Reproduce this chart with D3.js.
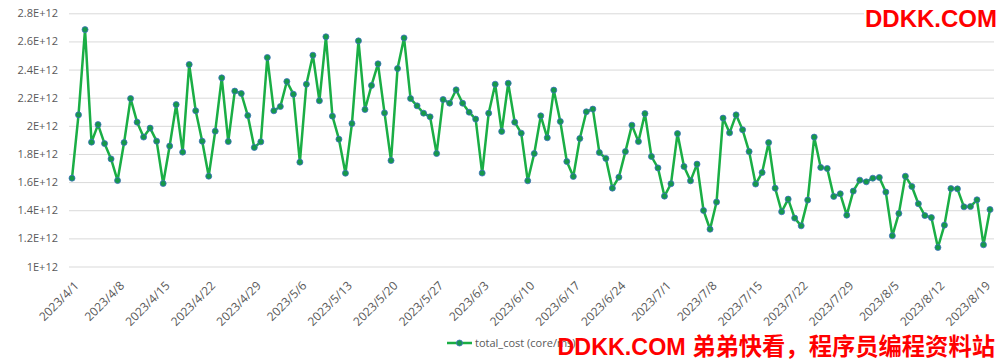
<!DOCTYPE html>
<html>
<head>
<meta charset="utf-8">
<script src="https://cdn.jsdelivr.net/npm/d3@7/dist/d3.min.js"></script>
<style>
  html, body { margin: 0; padding: 0; background: #fff; }
  svg { display: block; }
</style>
</head>
<body>
<svg id="chart" width="1001" height="360"></svg>
<script>
// ---- data ----
const startDate = "2023-04-01";
const seriesName = "total_cost (core/ms)";
// values in units of 1E+12
const totalCost = [
  1.628, 2.078, 2.684, 1.884, 2.009, 1.874, 1.765, 1.611, 1.881, 2.194,
  2.026, 1.920, 1.984, 1.891, 1.590, 1.856, 2.151, 1.813, 2.436, 2.107,
  1.891, 1.642, 1.962, 2.341, 1.888, 2.247, 2.230, 2.073, 1.846, 1.886,
  2.486, 2.107, 2.137, 2.315, 2.225, 1.742, 2.296, 2.502, 2.178, 2.633,
  2.069, 1.905, 1.663, 2.016, 2.604, 2.116, 2.287, 2.441, 2.092, 1.753,
  2.407, 2.625, 2.194, 2.142, 2.090, 2.064, 1.803, 2.187, 2.161, 2.256,
  2.161, 2.097, 2.048, 1.664, 2.090, 2.296, 1.960, 2.303, 2.026, 1.948,
  1.609, 1.803, 2.071, 1.915, 2.254, 2.031, 1.746, 1.640, 1.910, 2.100,
  2.119, 1.810, 1.768, 1.557, 1.635, 1.817, 2.005, 1.888, 2.087, 1.782,
  1.701, 1.500, 1.588, 1.945, 1.711, 1.609, 1.728, 1.398, 1.265, 1.458,
  2.055, 1.950, 2.078, 1.972, 1.817, 1.586, 1.668, 1.881, 1.557, 1.389,
  1.479, 1.344, 1.289, 1.472, 1.920, 1.704, 1.697, 1.498, 1.517, 1.365,
  1.536, 1.614, 1.602, 1.628, 1.633, 1.529, 1.218, 1.377, 1.642, 1.569,
  1.446, 1.362, 1.348, 1.135, 1.294, 1.554, 1.552, 1.424, 1.426, 1.474,
  1.154, 1.405
];
const yTicks = [1.0, 1.2, 1.4, 1.6, 1.8, 2.0, 2.2, 2.4, 2.6, 2.8];
const xTickLabels = ["2023/4/1","2023/4/8","2023/4/15","2023/4/22","2023/4/29","2023/5/6",
  "2023/5/13","2023/5/20","2023/5/27","2023/6/3","2023/6/10","2023/6/17","2023/6/24",
  "2023/7/1","2023/7/8","2023/7/15","2023/7/22","2023/7/29","2023/8/5","2023/8/12","2023/8/19"];
const watermarkTop = "DDKK.COM";
const watermarkBottom = "DDKK.COM 弟弟快看，程序员编程资料站";

// ---- build ----
const parse = d3.timeParse("%Y-%m-%d");
const t0 = parse(startDate);
const dates = totalCost.map((_, i) => d3.timeDay.offset(t0, i));
const data = dates.map((d, i) => ({ date: d, value: totalCost[i] * 1e12 }));
const parseTick = d3.timeParse("%Y/%m/%d");
const tickDates = xTickLabels.map(s => parseTick(s));

const svg = d3.select("#chart");
const font = "'Open Sans', 'Liberation Sans', sans-serif";
const textColor = "#595959";

const x = d3.scaleTime().domain([dates[0], dates[dates.length - 1]]).range([72, 990]);
const y = d3.scaleLinear().domain([1e12, 2.8e12]).range([266.5, 13.3]);

const fmtY = v => {
  const m = +(v / 1e12).toFixed(1);
  return m + "E+12";
};

// gridlines
const grid = svg.append("g")
  .call(d3.axisLeft(y).tickValues(yTicks.map(v => v * 1e12)).tickSize(-(994 - 69)).tickFormat(""))
  .attr("transform", "translate(69,0)");
grid.select(".domain").remove();
grid.selectAll("line").attr("stroke", "#d9d9d9").attr("stroke-width", 1);

// y labels
const yAxis = svg.append("g").attr("transform", "translate(58,0)")
  .call(d3.axisLeft(y).tickValues(yTicks.map(v => v * 1e12)).tickSize(0).tickPadding(0).tickFormat(fmtY));
yAxis.select(".domain").remove();
yAxis.selectAll("text").attr("font-family", font).attr("font-size", "11px").attr("fill", textColor);

// x labels
const xAxis = svg.append("g").attr("transform", "translate(0,266.5)")
  .call(d3.axisBottom(x).tickValues(tickDates).tickSize(0).tickFormat((d, i) => xTickLabels[i]));
xAxis.select(".domain").remove();
xAxis.selectAll("text")
  .attr("font-family", font).attr("font-size", "12px").attr("fill", textColor)
  .attr("text-anchor", "end")
  .attr("dy", null).attr("y", 0)
  .attr("transform", "translate(7,20) rotate(-45)");

// line
const line = d3.line().x(d => x(d.date)).y(d => y(d.value));
svg.append("path").datum(data)
  .attr("d", line)
  .attr("fill", "none")
  .attr("stroke", "#1aae45")
  .attr("stroke-width", 2.5)
  .attr("stroke-linejoin", "round");

svg.append("g").selectAll("circle").data(data).join("circle")
  .attr("cx", d => x(d.date)).attr("cy", d => y(d.value))
  .attr("r", 3)
  .attr("fill", "#15994a")
  .attr("stroke", "#3f6fc0")
  .attr("stroke-width", 0.8);

// legend
const lg = svg.append("g");
lg.append("line").attr("x1", 447).attr("x2", 472).attr("y1", 343).attr("y2", 343)
  .attr("stroke", "#1aae45").attr("stroke-width", 2.5);
lg.append("circle").attr("cx", 459.5).attr("cy", 343).attr("r", 3)
  .attr("fill", "#15994a").attr("stroke", "#3f6fc0").attr("stroke-width", 0.8);
lg.append("text").attr("x", 475).attr("y", 347)
  .attr("font-family", font).attr("font-size", "11px").attr("fill", textColor)
  .text(seriesName);

// watermarks
const wmFont = "'Liberation Sans', 'Noto Sans CJK SC', sans-serif";
svg.append("rect").attr("x", 864).attr("y", 4).attr("width", 137).attr("height", 27).attr("fill", "#fff");
svg.append("text").attr("x", 997).attr("y", 27).attr("text-anchor", "end")
  .attr("font-family", wmFont).attr("font-weight", "bold").attr("font-size", "24px")
  .attr("fill", "#ff0000").text(watermarkTop);
svg.append("text").attr("x", 995).attr("y", 355).attr("text-anchor", "end")
  .attr("font-family", wmFont).attr("font-weight", "bold").attr("font-size", "23.3px")
  .attr("fill", "#ff0000").text(watermarkBottom);
</script>
</body>
</html>
